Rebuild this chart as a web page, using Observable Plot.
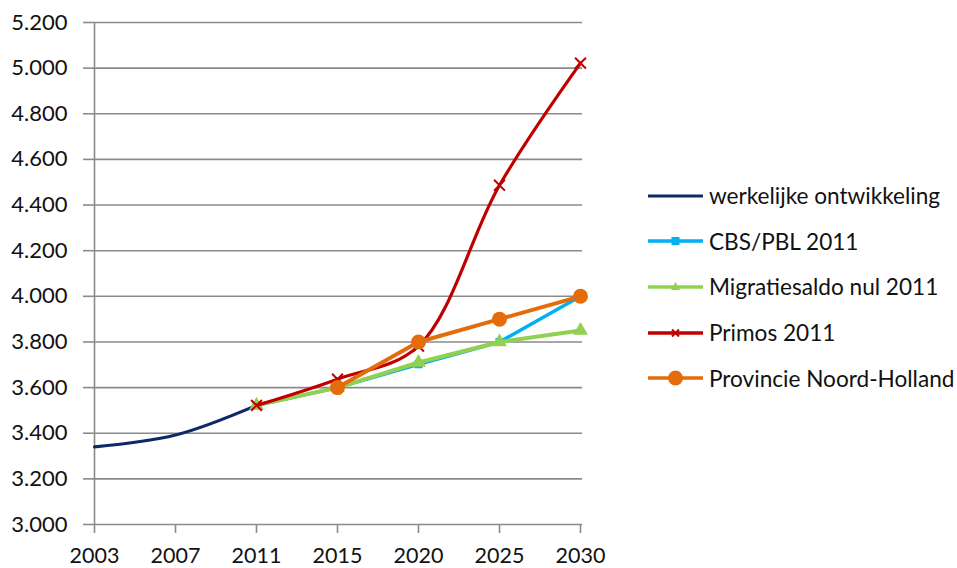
<!DOCTYPE html>
<html>
<head>
<meta charset="utf-8">
<script src="https://cdn.jsdelivr.net/npm/d3@7"></script>
<script src="https://cdn.jsdelivr.net/npm/@observablehq/plot@0.6"></script>
<style>
  html, body { margin: 0; padding: 0; background: #fff; }
  #wrap { position: relative; width: 957px; height: 568px; font-family: Lato, "Open Sans", sans-serif; }
  #legend { position: absolute; left: 646px; top: 173px; }
  .row { display: flex; align-items: center; height: 45.6px; font-size: 22.6px; color: #111; white-space: nowrap; }
  .row svg { margin-right: 5px; flex: none; }
</style>
</head>
<body>
<div id="wrap"><div id="legend"></div></div>
<script>
const years = ["2003", "2007", "2011", "2015", "2020", "2025", "2030"];
const yTicks = [3000, 3200, 3400, 3600, 3800, 4000, 4200, 4400, 4600, 4800, 5000, 5200];

const werkelijkeYears = ["2003", "2007", "2011"];
const werkelijke = [3340, 3392, 3522];

const prognoseYears = ["2011", "2015", "2020", "2025", "2030"];
const cbsPbl = [3522, 3600, 3702, 3800, 4000];
const migratieNul = [3522, 3600, 3710, 3800, 3850];
const primos = [3522, 3637, 3782, 4487, 5022];

const provincieYears = ["2015", "2020", "2025", "2030"];
const provincie = [3600, 3800, 3900, 4000];

const seriesNames = ["werkelijke ontwikkeling", "CBS/PBL 2011", "Migratiesaldo nul 2011", "Primos 2011", "Provincie Noord-Holland"];
const seriesColors = ["#0d2a66", "#00b0f0", "#92d050", "#c00000", "#e46c0a"];

const toRows = (xs, vs) => xs.map((x, i) => ({x, v: vs[i]}));
const rW = toRows(werkelijkeYears, werkelijke);
const rC = toRows(prognoseYears, cbsPbl);
const rM = toRows(prognoseYears, migratieNul);
const rP = toRows(prognoseYears, primos);
const rN = toRows(provincieYears, provincie);

const fmt = d => d3.format(",")(d).replace(/,/g, ".");
const grid = "#8a8a8a";

const chart = Plot.plot({
  width: 957,
  height: 568,
  marginLeft: 92,
  marginRight: 375,
  marginTop: 22,
  marginBottom: 44,
  style: { fontFamily: "Lato, 'Open Sans', sans-serif", fontSize: "21px", color: "#111", background: "#fff", overflow: "visible" },
  x: { type: "point", domain: years, padding: 0, label: null },
  y: { domain: [3000, 5200], label: null },
  marks: [
    Plot.ruleY(yTicks, { stroke: grid, strokeWidth: 1.6, strokeOpacity: 1 }),
    Plot.ruleX([years[0]], { stroke: grid, strokeWidth: 1.6 }),
    Plot.axisY({ ticks: yTicks, tickFormat: fmt, tickSize: 9, tickPadding: 16, fontSize: 22, stroke: grid, strokeWidth: 1.6, strokeOpacity: 1, fill: "#111", label: null }),
    Plot.axisX({ tickSize: 9, tickPadding: 14, fontSize: 21.5, stroke: grid, strokeWidth: 1.6, strokeOpacity: 1, fill: "#111", label: null }),
    Plot.line(rW, { x: "x", y: "v", stroke: seriesColors[0], strokeWidth: 3.2, curve: "catmull-rom" }),
    Plot.line(rC, { x: "x", y: "v", stroke: seriesColors[1], strokeWidth: 3.5 }),
    Plot.dot(rC, { x: "x", y: "v", symbol: "square", r: 4.5, fill: seriesColors[1], stroke: null }),
    Plot.line(rM, { x: "x", y: "v", stroke: seriesColors[2], strokeWidth: 4 }),
    Plot.dot(rM, { x: "x", y: "v", symbol: "triangle", r: 5.5, fill: seriesColors[2], stroke: null }),
    Plot.line(rP, { x: "x", y: "v", stroke: seriesColors[3], strokeWidth: 3.2, curve: "catmull-rom" }),
    Plot.dot(rP, { x: "x", y: "v", symbol: "times", r: 5, stroke: seriesColors[3], strokeWidth: 2, fill: "none" }),
    Plot.line(rN, { x: "x", y: "v", stroke: seriesColors[4], strokeWidth: 4 }),
    Plot.dot(rN, { x: "x", y: "v", symbol: "circle", r: 7.5, fill: seriesColors[4], stroke: null })
  ]
});
document.getElementById("wrap").prepend(chart);

const symbols = [null, "square", "triangle", "times", "circle"];
const legend = d3.select("#legend");
seriesNames.forEach((name, i) => {
  const row = legend.append("div").attr("class", "row");
  const s = row.append("svg").attr("width", 58).attr("height", 20);
  s.append("line").attr("x1", 2).attr("x2", 57).attr("y1", 10).attr("y2", 10)
    .attr("stroke", seriesColors[i]).attr("stroke-width", i === 0 ? 3.2 : 3.5);
  const sym = symbols[i];
  if (sym === "square") s.append("rect").attr("x", 25.5).attr("y", 6).attr("width", 8).attr("height", 8).attr("fill", seriesColors[i]);
  if (sym === "triangle") s.append("path").attr("d", "M29.5,5 L34,13 L25,13 Z").attr("fill", seriesColors[i]);
  if (sym === "times") s.append("path").attr("d", "M26,6.5 L33,13.5 M33,6.5 L26,13.5").attr("stroke", seriesColors[i]).attr("stroke-width", 2);
  if (sym === "circle") s.append("circle").attr("cx", 29.5).attr("cy", 10).attr("r", 7.5).attr("fill", seriesColors[i]);
  row.append("span").text(name);
});
</script>
</body>
</html>
